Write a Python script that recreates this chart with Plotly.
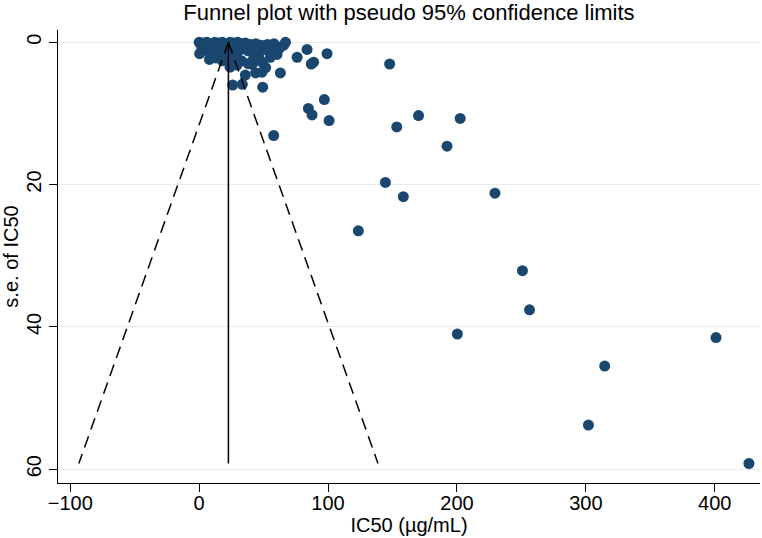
import plotly.graph_objects as go

# Study estimates (IC50, µg/mL) and their standard errors
ic50 = [
    0, 3, 6, 9, 12, 15, 18, 21, 24, 27, 30, 33, 36, 40, 44, 48, 53, 58, 67,
    2, 5, 8, 12, 16, 20, 26, 30, 34, 38, 42, 46, 51, 56, 62, 65.6,
    0.4, 8, 13, 10, 18, 24, 24, 29.4, 28, 33, 35.8, 26, 33.5, 38, 42, 41.3, 43.8,
    46.2, 48.8, 48.8, 51.6, 55.2, 60.4, 63, 49.3, 76, 83.7, 87, 88.8, 99.2,
    57.8, 84.7, 87.6, 97.1, 100.8,
    147.8, 153.3, 170.2, 202.5, 192.3,
    144.5, 158.4, 229.5, 123.5,
    250.8, 256.3, 200.3, 401, 314.6, 302, 426.5,
]
se = [
    0, 0.1, 0, 0.2, 0, 0.1, 0, 0.2, 0, 0.1, 0, 0.2, 0.1, 0.3, 0.2, 0.4, 0.3, 0.2, 0,
    0.8, 1.1, 0.9, 1.2, 1.0, 1.4, 1.1, 1.3, 0.9, 1.2, 1.0, 1.4, 1.0, 1.3, 0.9, 0.4,
    1.6, 2.4, 2.2, 2.0, 2.6, 2.3, 3.5, 3.2, 2.2, 2.6, 4.6, 6.0, 5.9, 3.0, 2.4, 3.1, 4.3,
    2.1, 2.8, 4.2, 3.55, 2.1, 1.7, 4.3, 6.3, 2.1, 1.0, 3.05, 2.8, 1.6,
    13.1, 9.3, 10.2, 8.05, 11.0,
    3.05, 11.9, 10.3, 10.7, 14.6,
    19.7, 21.7, 21.2, 26.5,
    32.1, 37.6, 41.0, 41.5, 45.5, 53.8, 59.2,
]

pooled = 22.7      # pooled estimate (vertical line)
se_max = 59.2      # largest standard error (bottom of funnel)
z = 1.96

x_ticks = [-100, 0, 100, 200, 300, 400]
y_ticks = [0, 20, 40, 60]

navy = "#1a476f"
font = "Liberation Sans, Arial, sans-serif"

fig = go.Figure()

fig.add_trace(go.Scatter(
    x=ic50, y=se, mode="markers",
    marker=dict(size=11, color=navy, line=dict(width=0)),
    showlegend=False, hoverinfo="x+y",
))

se_line = [0, se_max]
fig.add_trace(go.Scatter(
    x=[pooled - z * s for s in se_line], y=se_line, mode="lines",
    line=dict(color="black", width=1.5, dash="12px,7px"), showlegend=False,
))
fig.add_trace(go.Scatter(
    x=[pooled + z * s for s in se_line], y=se_line, mode="lines",
    line=dict(color="black", width=1.5, dash="12px,7px"), showlegend=False,
))
fig.add_trace(go.Scatter(
    x=[pooled, pooled], y=se_line, mode="lines",
    line=dict(color="black", width=1.5), showlegend=False,
))

fig.update_layout(
    width=762, height=538,
    margin=dict(l=58, r=2, t=30, b=55),
    paper_bgcolor="white", plot_bgcolor="white",
    font=dict(family=font, color="black", size=20),
    title=dict(text="Funnel plot with pseudo 95% confidence limits",
               x=0.5, xref="paper", y=1 - 12 / 538, yref="container",
               xanchor="center", yanchor="middle",
               font=dict(size=22, family=font, color="black")),
    xaxis=dict(
        range=[-109.5, 435.1], tickvals=x_ticks, ticks="outside", ticklen=8,
        tickwidth=1, tickcolor="black", showline=True, linecolor="black",
        linewidth=1, showgrid=False, zeroline=False,
        ticklabelstandoff=-6,
        title=dict(text="IC50 (µg/mL)", standoff=0, font=dict(size=20)),
        tickfont=dict(size=20),
    ),
    yaxis=dict(
        range=[61.94, -1.73], tickvals=y_ticks, ticks="outside", ticklen=8,
        tickwidth=1, tickcolor="black", showline=True, linecolor="black",
        linewidth=1, showgrid=True, gridcolor="#e3edf1", gridwidth=1,
        zeroline=False, tickangle=-90,
        title=dict(text="s.e. of IC50", standoff=4, font=dict(size=20)),
        tickfont=dict(size=20),
    ),
)

fig.write_html("out.html")
